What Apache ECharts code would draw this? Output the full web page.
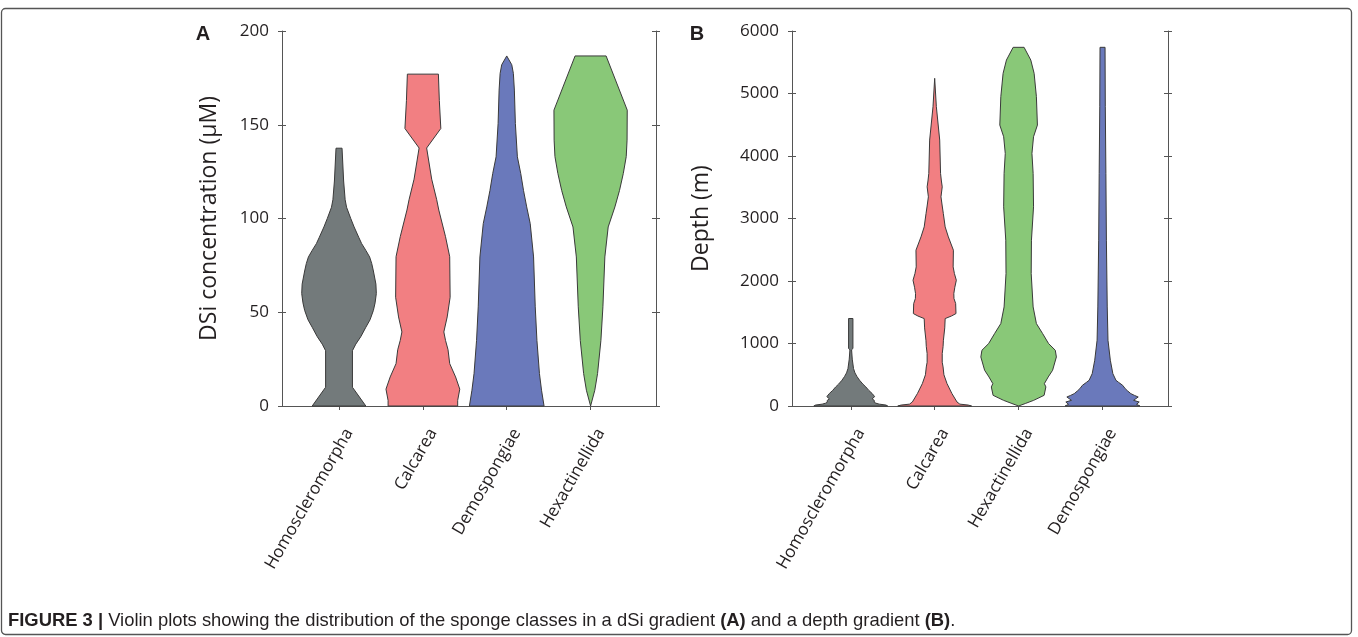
<!DOCTYPE html>
<html>
<head>
<meta charset="utf-8">
<script src="https://cdn.jsdelivr.net/npm/echarts@6/dist/echarts.min.js"></script>
<style>html,body{margin:0;padding:0;background:#fff;}#chart{width:1358px;height:637px;}</style>
</head>
<body>
<div id="chart"></div>
<script>
// ---------- DATA ----------
const categoriesA = ['Homoscleromorpha', 'Calcarea', 'Demospongiae', 'Hexactinellida'];
const categoriesB = ['Homoscleromorpha', 'Calcarea', 'Hexactinellida', 'Demospongiae'];
const categoryPositions = [1, 2, 3, 4];
const dsiTicks = [0, 50, 100, 150, 200];
const depthTicks = [0, 1000, 2000, 3000, 4000, 5000, 6000];

// violin profiles: [value, half-width of density (in category units)]
const dsiHomoscleromorpha = [[0,0.32],[10,0.16],[29.5,0.16],[33,0.2],[37,0.26],[42,0.32],[46,0.37],[51,0.41],[55,0.43],[60,0.445],[65,0.44],[72,0.41],[76,0.39],[79.5,0.365],[83,0.32],[86.6,0.27],[90,0.235],[95.5,0.18],[100,0.14],[106,0.09],[110,0.073],[120,0.055],[137.5,0.036]];
const dsiCalcarea = [[0,0.415],[3,0.415],[9,0.44],[15.5,0.39],[22.6,0.32],[30,0.3],[35,0.27],[39.5,0.25],[47.5,0.29],[58,0.325],[79.6,0.32],[90.3,0.27],[104.5,0.19],[110,0.165],[121,0.105],[137.6,0.045],[148,0.214],[163,0.196],[177,0.185]];
const dsiDemospongiae = [[0,0.445],[8.4,0.415],[17.3,0.39],[35,0.36],[52.9,0.34],[79.5,0.32],[97.3,0.28],[106.2,0.238],[115,0.2],[124,0.167],[132.9,0.127],[150.7,0.103],[168.5,0.091],[177.4,0.079],[182,0.06],[186.7,0]];
const dsiHexactinellida = [[0,0],[8.4,0.05],[17.3,0.083],[35,0.123],[52.9,0.147],[79.5,0.17],[95.5,0.21],[106.2,0.29],[115,0.345],[124,0.39],[133,0.425],[141.8,0.435],[157.8,0.437],[186.7,0.185]];

const depthHomoscleromorpha = [[0,0.44],[15,0.42],[30,0.34],[45,0.3],[60,0.28],[90,0.28],[115,0.255],[150,0.285],[200,0.255],[250,0.215],[305,0.18],[350,0.145],[412,0.105],[470,0.075],[530,0.05],[600,0.033],[750,0.018],[900,0.01],[920,0.026],[1400,0.026]];
const depthCalcarea = [[0,0.44],[15,0.4],[30,0.3],[64,0.266],[198,0.206],[358,0.147],[500,0.11],[625,0.1],[700,0.09],[839,0.09],[950,0.1],[1052,0.104],[1250,0.12],[1399,0.125],[1440,0.2],[1479,0.254],[1639,0.25],[1720,0.23],[1799,0.228],[1900,0.24],[2012,0.258],[2120,0.235],[2226,0.22],[2493,0.223],[2706,0.163],[2866,0.125],[3080,0.103],[3200,0.09],[3347,0.075],[3507,0.09],[3600,0.08],[3721,0.07],[4255,0.06],[4789,0.02],[5243,0]];
const depthHexactinellida = [[0,0],[40,0.08],[91,0.18],[171,0.304],[305,0.325],[358,0.307],[465,0.353],[572,0.405],[785,0.45],[892,0.437],[999,0.357],[1159,0.286],[1319,0.212],[1585,0.173],[2119,0.15],[2653,0.153],[3187,0.178],[3721,0.173],[4041,0.159],[4308,0.178],[4495,0.224],[4949,0.212],[5322,0.185],[5536,0.145],[5739,0.065]];
const depthDemospongiae = [[0,0.446],[27,0.405],[64,0.437],[91,0.37],[144,0.425],[170,0.38],[198,0.337],[240,0.3],[278,0.27],[331,0.24],[380,0.19],[411,0.16],[518,0.123],[732,0.093],[1052,0.065],[1585,0.056],[2653,0.046],[3721,0.04],[4788,0.033],[5739,0.03]];

// ---------- STYLE ----------
const colors = { homo: '#737a7b', calc: '#f27f82', demo: '#6a79bb', hexa: '#89c878' };
const axisColor = '#555';
const textColor = '#231f20';
const tickFont = 'Open Sans';

const violinsA = [
  { pos: 1, profile: dsiHomoscleromorpha, color: colors.homo },
  { pos: 2, profile: dsiCalcarea, color: colors.calc },
  { pos: 3, profile: dsiDemospongiae, color: colors.demo },
  { pos: 4, profile: dsiHexactinellida, color: colors.hexa }
];
const violinsB = [
  { pos: 1, profile: depthHomoscleromorpha, color: colors.homo },
  { pos: 2, profile: depthCalcarea, color: colors.calc },
  { pos: 3, profile: depthHexactinellida, color: colors.hexa },
  { pos: 4, profile: depthDemospongiae, color: colors.demo }
];

const chart = echarts.init(document.getElementById('chart'), null, { renderer: 'canvas' });

const gridsRect = [
  { left: 282, top: 31, width: 374, height: 375 },
  { left: 282, top: 31, width: 374, height: 375 },
  { left: 792, top: 31, width: 376, height: 375 },
  { left: 792, top: 31, width: 376, height: 375 }
];

function xAxesFor(gridIndex, min, max, cats, main) {
  const common = {
    type: 'value', gridIndex, min, max,
    splitLine: { show: false },
    axisLine: { show: main, lineStyle: { color: axisColor, width: 1 } },
    axisTick: { show: true, inside: !main, length: 4, customValues: categoryPositions, lineStyle: { color: axisColor } },
    axisLabel: { show: false }
  };
  const bottom = Object.assign({}, common, { position: 'bottom' });
  if (main) {
    bottom.axisLabel = {
      show: true,
      customValues: categoryPositions.map(p => p + 0.12),
      rotate: 60, margin: 24,
      fontFamily: tickFont, fontSize: 17, color: textColor,
      formatter: v => cats[Math.round(v) - 1]
    };
  }
  const top = Object.assign({}, common, { position: 'top' });
  return [bottom, top];
}

function yAxesFor(gridIndex, max, interval, name, nameGap, main) {
  const common = {
    type: 'value', gridIndex, min: 0, max, interval,
    splitLine: { show: false },
    axisLine: { show: main, lineStyle: { color: axisColor, width: 1 } },
    axisTick: { show: true, inside: !main, length: 4, lineStyle: { color: axisColor } },
    axisLabel: { show: false }
  };
  const left = Object.assign({}, common, { position: 'left' });
  if (main) {
    left.axisLabel = { show: true, margin: 13, fontFamily: tickFont, fontSize: 17, color: textColor, formatter: v => String(v) };
    left.name = name;
    left.nameLocation = 'middle';
    left.nameGap = nameGap;
    left.nameTextStyle = { fontFamily: tickFont, fontSize: 23, color: textColor };
  }
  const right = Object.assign({}, common, { position: 'right' });
  return [left, right];
}

const xAxis = [].concat(
  xAxesFor(0, 0.32, 4.78, categoriesA, true),
  xAxesFor(1, 0.32, 4.78, categoriesA, false),
  xAxesFor(2, 0.30, 4.78, categoriesB, true),
  xAxesFor(3, 0.30, 4.78, categoriesB, false)
);
const yAxis = [].concat(
  yAxesFor(0, dsiTicks[dsiTicks.length - 1], dsiTicks[1] - dsiTicks[0], 'DSi concentration (\u00b5M)', 61, true),
  yAxesFor(1, dsiTicks[dsiTicks.length - 1], dsiTicks[1] - dsiTicks[0], '', 0, false),
  yAxesFor(2, depthTicks[depthTicks.length - 1], depthTicks[1] - depthTicks[0], 'Depth (m)', 79, true),
  yAxesFor(3, depthTicks[depthTicks.length - 1], depthTicks[1] - depthTicks[0], '', 0, false)
);

function violinSeries(v, axisIndex) {
  return {
    type: 'custom',
    xAxisIndex: axisIndex, yAxisIndex: axisIndex,
    clip: false,
    data: v.profile.map(p => [v.pos, p[0], p[1]]),
    encode: { x: 0, y: 1 },
    renderItem: function (params, api) {
      if (params.dataIndex !== 0) return;
      const right = v.profile.map(p => api.coord([v.pos + p[1], p[0]]));
      const left = v.profile.slice().reverse().map(p => api.coord([v.pos - p[1], p[0]]));
      return {
        type: 'polygon',
        shape: { points: right.concat(left) },
        style: { fill: v.color, stroke: '#3a3a3a', lineWidth: 1 }
      };
    }
  };
}

const series = violinsA.map(v => violinSeries(v, 0)).concat(violinsB.map(v => violinSeries(v, 4)));

const option = {
  animation: false,
  backgroundColor: '#fff',
  grid: gridsRect,
  xAxis, yAxis, series,
  graphic: [
    { type: 'rect', shape: { x: 1.5, y: 8.5, width: 1350, height: 626, r: 4 }, style: { fill: 'none', stroke: '#555', lineWidth: 1.3 }, silent: true },
    { type: 'text', style: { x: 203, y: 34, text: 'A', font: 'bold 20px "Liberation Sans", Arial, sans-serif', fill: textColor, align: 'center', verticalAlign: 'middle' } },
    { type: 'text', style: { x: 697, y: 34, text: 'B', font: 'bold 20px "Liberation Sans", Arial, sans-serif', fill: textColor, align: 'center', verticalAlign: 'middle' } },
    { type: 'text', style: {
        x: 8, y: 621, verticalAlign: 'middle', align: 'left',
        text: '{b|FIGURE 3 |} Violin plots showing the distribution of the sponge classes in a dSi gradient {b|(A)} and a depth gradient {b|(B)}.',
        font: '18.4px "Liberation Sans", Arial, sans-serif', fill: textColor,
        rich: { b: { fontWeight: 'bold', fontSize: 18.4, fontFamily: '"Liberation Sans", Arial, sans-serif', fill: textColor } }
      } }
  ]
};
chart.setOption(option);
</script>
</body>
</html>
